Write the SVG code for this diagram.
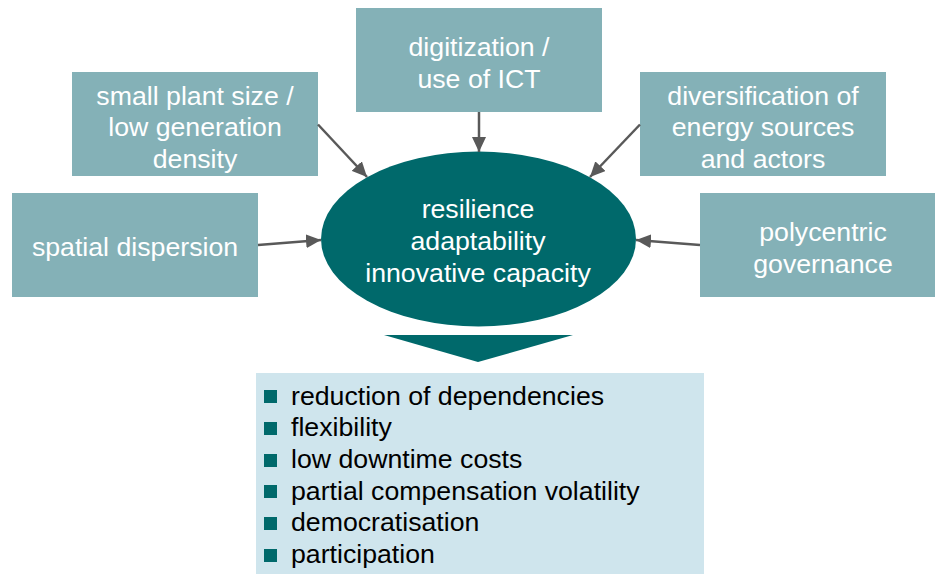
<svg xmlns="http://www.w3.org/2000/svg" width="935" height="574" viewBox="0 0 935 574">
<style>
.box{fill:#84b1b7}
.bt{font-family:"Liberation Sans",Arial,sans-serif;font-size:26.7px;fill:#ffffff;text-anchor:middle}
.lt{font-family:"Liberation Sans",Arial,sans-serif;font-size:26.7px;fill:#000000}
.bul{fill:#00696b}
.con{stroke:#595959;stroke-width:2.5;fill:none;marker-end:url(#ah)}
</style>
<defs>
<marker id="ah" markerUnits="userSpaceOnUse" markerWidth="16" markerHeight="14" refX="15" refY="7" orient="auto">
<path d="M0,0 L15,7 L0,14 Z" fill="#595959"/>
</marker>
</defs>
<rect width="935" height="574" fill="#ffffff"/>
<g id="digitization">
<rect class="box" x="356" y="8" width="246" height="104"/>
<text class="bt" x="479" y="56">digitization /</text>
<text class="bt" x="479" y="87.5">use of ICT</text>
</g>
<g id="small-plant">
<rect class="box" x="72" y="72" width="246" height="104"/>
<text class="bt" x="195" y="104.5">small plant size /</text>
<text class="bt" x="195" y="136">low generation</text>
<text class="bt" x="195" y="167.5">density</text>
</g>
<g id="diversification">
<rect class="box" x="640" y="72" width="246" height="104"/>
<text class="bt" x="763" y="104.5">diversification of</text>
<text class="bt" x="763" y="136">energy sources</text>
<text class="bt" x="763" y="167.5">and actors</text>
</g>
<g id="spatial">
<rect class="box" x="12" y="193" width="246" height="104"/>
<text class="bt" x="135" y="256">spatial dispersion</text>
</g>
<g id="polycentric">
<rect class="box" x="700" y="193" width="246" height="104"/>
<text class="bt" x="823" y="241">polycentric</text>
<text class="bt" x="823" y="272.5">governance</text>
</g>
<g id="center">
<ellipse cx="478.5" cy="239" rx="157.5" ry="87.5" fill="#00696b"/>
<text class="bt" x="478" y="218">resilience</text>
<text class="bt" x="478" y="250">adaptability</text>
<text class="bt" x="478" y="281.5">innovative capacity</text>
</g>
<g id="down-arrow">
<polygon points="384,335 573,335 478,362" fill="#00696b"/>
</g>
<g id="outcomes">
<rect x="256" y="373" width="448" height="201" fill="#cfe5ed"/>
<rect class="bul" x="264" y="390" width="13" height="13"/>
<rect class="bul" x="264" y="422" width="13" height="13"/>
<rect class="bul" x="264" y="454" width="13" height="13"/>
<rect class="bul" x="264" y="485" width="13" height="13"/>
<rect class="bul" x="264" y="517" width="13" height="13"/>
<rect class="bul" x="264" y="549" width="13" height="13"/>
<text class="lt" x="291" y="404.5">reduction of dependencies</text>
<text class="lt" x="291" y="436.2">flexibility</text>
<text class="lt" x="291" y="467.9">low downtime costs</text>
<text class="lt" x="291" y="499.6">partial compensation volatility</text>
<text class="lt" x="291" y="531.3">democratisation</text>
<text class="lt" x="291" y="563">participation</text>
</g>
<g id="connectors">
<line class="con" x1="479" y1="112" x2="479" y2="152"/>
<line class="con" x1="318" y1="124.5" x2="367" y2="177"/>
<line class="con" x1="640" y1="124.5" x2="590" y2="177"/>
<line class="con" x1="258" y1="245" x2="321" y2="240"/>
<line class="con" x1="700" y1="245" x2="636" y2="240"/>
</g>
</svg>
